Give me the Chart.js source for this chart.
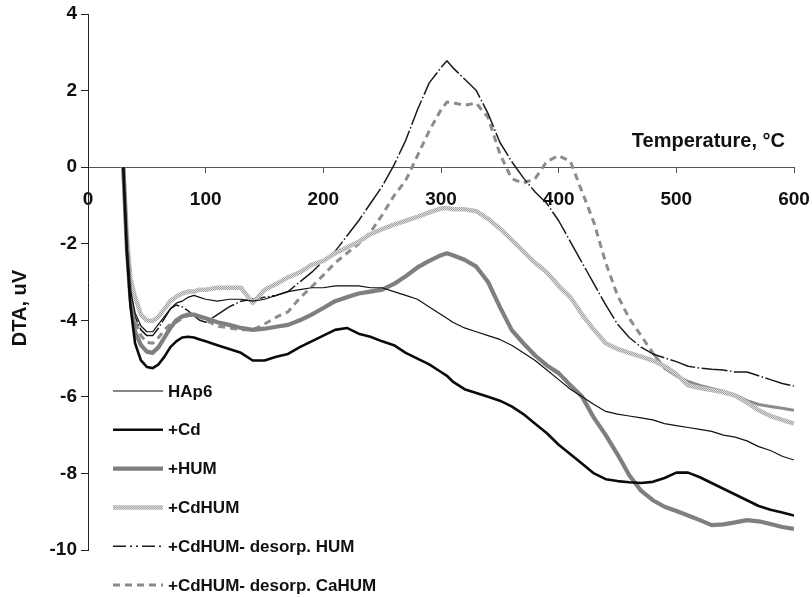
<!DOCTYPE html>
<html><head><meta charset="utf-8">
<script src="https://cdn.jsdelivr.net/npm/chart.js@4.4.1/dist/chart.umd.min.js"></script>
<style>html,body{margin:0;padding:0;background:#fff;}#wrap{width:812px;height:597px;}</style>
</head><body><div id="wrap"><canvas id="c" width="812" height="597"></canvas></div>
<script>
// ---- data ----
const temps = [30,33,36,40,45,50,55,60,65,70,75,80,85,90,95,100,
  110,120,130,140,150,160,170,180,190,200,210,220,230,240,250,260,270,280,290,300,
  305,
  310,320,330,340,350,360,370,380,390,400,410,420,430,440,450,460,470,480,490,500,510,520,530,540,550,560,570,580,590,600];

const hap6 = [0,-2.0,-3.2,-3.8,-4.15,-4.3,-4.3,-4.1,-3.9,-3.7,-3.55,-3.5,-3.4,-3.35,-3.4,-3.45,
  -3.5,-3.45,-3.45,-3.5,-3.45,-3.35,-3.25,-3.2,-3.15,-3.15,-3.1,-3.1,-3.1,-3.15,-3.15,-3.25,-3.35,-3.45,-3.65,-3.85,
  -3.95,
  -4.05,-4.2,-4.3,-4.4,-4.5,-4.65,-4.85,-5.05,-5.3,-5.55,-5.8,-6.0,-6.2,-6.38,-6.45,-6.5,-6.55,-6.6,-6.7,-6.75,-6.8,-6.85,-6.9,-7.0,-7.05,-7.15,-7.3,-7.4,-7.55,-7.65];

const cd = [0,-2.2,-3.6,-4.6,-5.05,-5.22,-5.25,-5.15,-4.95,-4.7,-4.55,-4.45,-4.43,-4.45,-4.5,-4.55,
  -4.65,-4.75,-4.85,-5.05,-5.05,-4.95,-4.88,-4.7,-4.55,-4.4,-4.25,-4.2,-4.35,-4.43,-4.55,-4.65,-4.85,-5.0,-5.15,-5.35,
  -5.45,
  -5.6,-5.8,-5.9,-6.0,-6.1,-6.25,-6.45,-6.7,-6.95,-7.25,-7.5,-7.75,-8.0,-8.15,-8.2,-8.23,-8.25,-8.22,-8.12,-7.98,-7.98,-8.1,-8.25,-8.4,-8.55,-8.7,-8.85,-8.95,-9.02,-9.1];

const hum = [0,-2.1,-3.4,-4.3,-4.65,-4.82,-4.85,-4.7,-4.45,-4.2,-4.0,-3.9,-3.85,-3.85,-3.9,-3.95,
  -4.05,-4.12,-4.2,-4.25,-4.22,-4.17,-4.12,-4.0,-3.85,-3.68,-3.5,-3.4,-3.3,-3.25,-3.2,-3.05,-2.85,-2.62,-2.45,-2.3,
  -2.25,
  -2.3,-2.42,-2.6,-3.0,-3.65,-4.25,-4.6,-4.92,-5.18,-5.38,-5.7,-6.0,-6.55,-7.0,-7.5,-8.05,-8.45,-8.7,-8.87,-8.98,-9.1,-9.22,-9.35,-9.33,-9.28,-9.22,-9.25,-9.32,-9.4,-9.45];

const cdhum = [0,-1.8,-2.9,-3.4,-3.85,-4.0,-4.02,-3.9,-3.7,-3.5,-3.38,-3.3,-3.25,-3.25,-3.2,-3.2,
  -3.15,-3.15,-3.15,-3.55,-3.2,-3.05,-2.88,-2.75,-2.55,-2.45,-2.25,-2.1,-1.95,-1.75,-1.62,-1.5,-1.4,-1.3,-1.18,-1.08,
  -1.07,
  -1.1,-1.1,-1.15,-1.35,-1.6,-1.9,-2.2,-2.5,-2.75,-3.1,-3.4,-3.85,-4.25,-4.6,-4.75,-4.85,-4.95,-5.05,-5.2,-5.4,-5.7,-5.77,-5.82,-5.88,-5.97,-6.15,-6.35,-6.5,-6.6,-6.7];

const desorpHum = [0,-2.0,-3.3,-3.9,-4.25,-4.4,-4.4,-4.2,-3.95,-3.7,-3.6,-3.65,-3.75,-3.88,-4.0,-4.05,
  -3.85,-3.65,-3.5,-3.45,-3.4,-3.35,-3.25,-3.0,-2.75,-2.45,-2.2,-1.8,-1.4,-0.95,-0.5,0.05,0.7,1.5,2.2,2.6,
  2.78,
  2.6,2.3,2.0,1.4,0.65,0.15,-0.28,-0.65,-0.95,-1.4,-1.95,-2.5,-3.05,-3.6,-4.1,-4.45,-4.7,-4.88,-4.98,-5.08,-5.2,-5.25,-5.28,-5.3,-5.35,-5.35,-5.45,-5.55,-5.65,-5.72];

const desorpCaHum = [0,-2.0,-3.3,-4.0,-4.4,-4.58,-4.6,-4.45,-4.25,-4.1,-4.05,-3.95,-3.88,-3.85,-3.9,-4.0,
  -4.15,-4.2,-4.25,-4.25,-4.1,-3.92,-3.78,-3.42,-3.13,-2.82,-2.5,-2.25,-2.0,-1.7,-1.25,-0.75,-0.35,0.3,0.95,1.5,
  1.7,
  1.68,1.62,1.67,1.3,0.35,-0.3,-0.42,-0.3,0.15,0.3,0.15,-0.65,-1.45,-2.5,-3.35,-3.95,-4.4,-4.85,-5.25,-5.45,-5.6,-5.7,-5.78,-5.85,-5.95,-6.1,-6.2,-6.25,-6.3,-6.35];

const seriesNames = ["HAp6","+Cd","+HUM","+CdHUM","+CdHUM- desorp. HUM","+CdHUM- desorp. CaHUM"];
const xTicks = [0,100,200,300,400,500,600];
const yTicks = [-10,-8,-6,-4,-2,0,2,4];
const xTitle = "Temperature, \u00B0C";
const yTitle = "DTA, uV";

// ---- styling ----
const FONT = '"Liberation Sans", Arial, Helvetica, sans-serif';
function stipple(){
  const p = document.createElement('canvas'); p.width = 2; p.height = 2;
  const g = p.getContext('2d');
  g.fillStyle = '#dedede'; g.fillRect(0,0,2,2);
  g.fillStyle = '#a2a2a2'; g.fillRect(0,0,1,1); g.fillRect(1,1,1,1);
  return document.getElementById('c').getContext('2d').createPattern(p,'repeat');
}
const pts = arr => arr.map((v,i)=>({x:temps[i], y:v}));
const styles = [
  {borderColor:'#111', borderWidth:1.2, borderDash:[]},
  {borderColor:'#0a0a0a', borderWidth:2.6, borderDash:[]},
  {borderColor:'#7f7f7f', borderWidth:4.2, borderDash:[]},
  {borderColor:stipple(), borderWidth:4.5, borderDash:[]},
  {borderColor:'#1a1a1a', borderWidth:1.5, borderDash:[26,2.5,1.5,2.5]},
  {borderColor:'#8c8c8c', borderWidth:3, borderDash:[7,5]}
];
const values = [hap6, cd, hum, cdhum, desorpHum, desorpCaHum];
const datasets = values.map((v,i)=>Object.assign({
  label: seriesNames[i], data: pts(v), pointRadius:0, tension:0, fill:false,
  borderJoinStyle:'round', borderCapStyle:'butt'
}, styles[i]));
datasets[5].segment = { borderDash: c => c.p0.parsed.x >= 480 ? [] : [7,5] };

const decor = {
  id:'decor',
  afterDraw(chart){
    const {ctx, scales:{x, y}} = chart;
    ctx.save();
    ctx.fillStyle = '#111';
    ctx.font = 'bold 20px ' + FONT;
    ctx.textAlign = 'right'; ctx.textBaseline = 'alphabetic';
    ctx.fillText(xTitle, x.getPixelForValue(600) - 9, y.getPixelForValue(0) - 20);
    ctx.save();
    ctx.translate(20, (y.top + y.bottom)/2 + 26);
    ctx.rotate(-Math.PI/2);
    ctx.textAlign = 'center'; ctx.textBaseline = 'middle';
    ctx.fillText(yTitle, 0, 0);
    ctx.restore();
    // legend
    ctx.font = 'bold 17px ' + FONT;
    ctx.textAlign = 'left'; ctx.textBaseline = 'middle';
    chart.data.datasets.forEach((ds, i) => {
      const yy = 391 + i*38.8;
      ctx.save();
      ctx.strokeStyle = ds.borderColor;
      ctx.lineWidth = ds.borderWidth;
      ctx.setLineDash(i === 4 ? [13,4,2,4,2,4] : (ds.borderDash || []));
      ctx.beginPath(); ctx.moveTo(113, yy); ctx.lineTo(163, yy); ctx.stroke();
      ctx.restore();
      ctx.fillStyle = '#111';
      ctx.fillText(ds.label, 168, yy + 1);
    });
    ctx.restore();
  }
};

new Chart(document.getElementById('c'), {
  type: 'line',
  data: { datasets },
  options: {
    responsive:false, animation:false, devicePixelRatio:1,
    layout:{ padding:{ left:0, top:14, right:18, bottom:47 } },
    plugins:{ legend:{display:false}, tooltip:{enabled:false} },
    scales:{
      x:{
        type:'linear', position:{ y:0 }, min:0, max:600,
        afterBuildTicks: s => { s.ticks = xTicks.map(v=>({value:v})); },
        afterFit: s => { s.paddingLeft = 6; s.paddingRight = 16; },
        grid:{ drawOnChartArea:false, drawTicks:true, tickLength:5, color:'#555' },
        border:{ color:'#555', width:1 },
        ticks:{ color:'#111', padding:16, maxRotation:0, autoSkip:false,
          font:{ family:FONT, size:19, weight:'bold' } }
      },
      y:{
        type:'linear', position:'left', min:-10, max:4,
        afterBuildTicks: s => { s.ticks = yTicks.map(v=>({value:v})); },
        afterFit: s => { s.width = 88; s.paddingTop = 10; s.paddingBottom = 10; },
        grid:{ drawOnChartArea:false, drawTicks:true, tickLength:7, color:'#222' },
        border:{ color:'#222', width:1 },
        ticks:{ color:'#111', padding:4, autoSkip:false,
          font:{ family:FONT, size:19, weight:'bold' } }
      }
    }
  },
  plugins:[decor]
});
</script></body></html>
